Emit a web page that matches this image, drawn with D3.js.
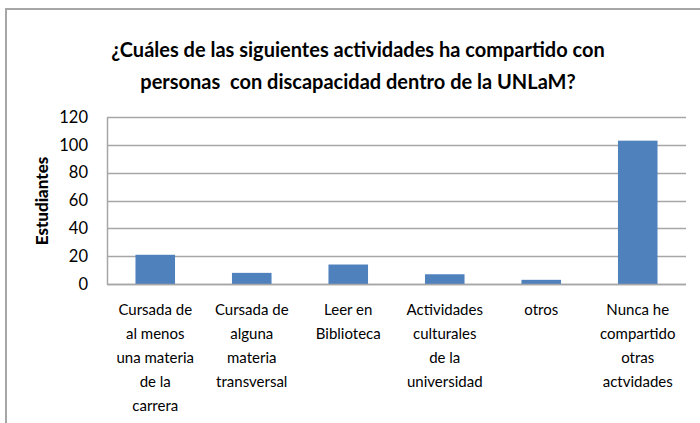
<!DOCTYPE html>
<html>
<head>
<meta charset="utf-8">
<script src="https://cdn.jsdelivr.net/npm/d3@7"></script>
<style>
  body { margin: 0; background: #fff; }
  text { font-family: Lato, "Open Sans", sans-serif; fill: #000; }
</style>
</head>
<body>
<div id="chart"></div>
<script>
// Chart data
const categories = ["c1", "c2", "c3", "c4", "c5", "c6"];
const categoryLabels = [
  ["Cursada de", "al menos", "una materia", "de la", "carrera"],
  ["Cursada de", "alguna", "materia", "transversal"],
  ["Leer en", "Biblioteca"],
  ["Actividades", "culturales", "de la", "universidad"],
  ["otros"],
  ["Nunca he", "compartido", "otras", "actvidades"]
];
const students = [21, 8, 14, 7, 3, 103];
const yTicks = [0, 20, 40, 60, 80, 100, 120];
const titleLines = [
  "¿Cuáles de las siguientes actividades ha compartido con",
  "personas  con discapacidad dentro de la UNLaM?"
];

const svg = d3.select("#chart")
  .append("svg")
  .attr("width", 700)
  .attr("height", 423);

// outer frame (top + left only, rest is cropped)
svg.append("path")
  .attr("d", "M6,423 V9 H700")
  .attr("fill", "none")
  .attr("stroke", "#a6a6a6")
  .attr("stroke-width", 2);

const margin = { top: 117, left: 107, right: 14, bottom: 139 };
const width = 700 - margin.left - margin.right;
const height = 423 - margin.top - margin.bottom;

const g = svg.append("g")
  .attr("transform", `translate(${margin.left}, ${margin.top})`);

const x = d3.scaleBand().domain(categories).range([0, width]).paddingInner(0.59).paddingOuter(0.295);
const y = d3.scaleLinear().domain([0, 120]).range([height, 0]);

// Gridlines
g.selectAll(".grid")
  .data(yTicks)
  .enter()
  .append("line")
  .attr("class", "grid")
  .attr("x1", 0)
  .attr("x2", width)
  .attr("y1", d => Math.round(y(d)) + 0.5)
  .attr("y2", d => Math.round(y(d)) + 0.5)
  .attr("stroke", "#a6a6a6")
  .attr("stroke-width", 1.5);

// Bars
g.selectAll(".bar")
  .data(students)
  .enter()
  .append("rect")
  .attr("class", "bar")
  .attr("x", (d, i) => x(categories[i]))
  .attr("width", x.bandwidth())
  .attr("y", d => y(d))
  .attr("height", d => height - y(d))
  .attr("fill", "#4f81bd");

// Y axis
const yAxis = g.append("g")
  .call(d3.axisLeft(y).tickValues(yTicks).tickSize(0).tickPadding(19));
yAxis.select(".domain").attr("stroke", "#a6a6a6").attr("stroke-width", 1.5);
yAxis.selectAll("text").style("font-size", "16.5px").attr("fill", "#000");

// X axis line
g.append("line")
  .attr("x1", 0).attr("x2", width)
  .attr("y1", height + 0.5).attr("y2", height + 0.5)
  .attr("stroke", "#a6a6a6").attr("stroke-width", 1.5);

// X labels
const xLabels = g.selectAll(".xlabel")
  .data(categories)
  .enter()
  .append("text")
  .attr("class", "xlabel")
  .attr("text-anchor", "middle")
  .style("font-size", "15px")
  .attr("transform", d => `translate(${x(d) + x.bandwidth() / 2}, ${height + 31})`);

xLabels.selectAll("tspan")
  .data((d, i) => categoryLabels[i])
  .enter()
  .append("tspan")
  .attr("x", 0)
  .attr("y", (d, i) => i * 24)
  .text(d => d);

// Y axis label
svg.append("text")
  .attr("transform", "translate(48, 201) rotate(-90)")
  .attr("text-anchor", "middle")
  .style("font-size", "17px")
  .style("font-weight", "900")
  .text("Estudiantes");

// Title
svg.selectAll(".title")
  .data(titleLines)
  .enter()
  .append("text")
  .attr("class", "title")
  .attr("x", 358)
  .attr("y", (d, i) => 57 + i * 32)
  .attr("text-anchor", "middle")
  .style("font-size", "20px")
  .style("font-weight", "bold")
  .style("white-space", "pre")
  .text(d => d);
</script>
</body>
</html>
